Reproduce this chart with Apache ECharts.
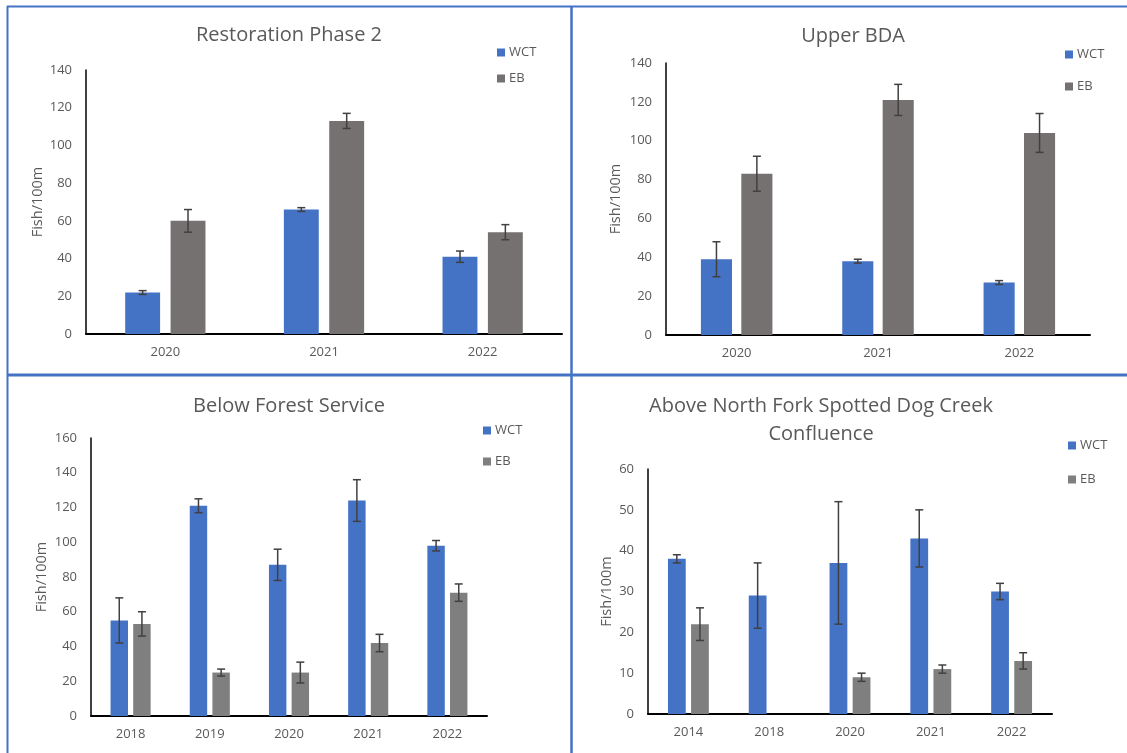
<!DOCTYPE html>
<html>
<head>
<meta charset="utf-8">
<title>Fish density by reach</title>
<script src="https://cdn.jsdelivr.net/npm/echarts@6/dist/echarts.min.js"></script>
<style>
  html, body { margin: 0; padding: 0; background: #ffffff; }
  #chart { width: 1127px; height: 753px; }
</style>
</head>
<body>
<div id="chart"></div>
<script>
// Fish per 100 m, westslope cutthroat (WCT) and eastern brook trout (EB), with error bars (+/-)

// Restoration Phase 2
const rp2Years = ['2020', '2021', '2022'];
const rp2WCT = [22, 66, 41];
const rp2WCTErr = [1, 1, 3];
const rp2EB = [60, 113, 54];
const rp2EBErr = [6, 4, 4];

// Upper BDA
const bdaYears = ['2020', '2021', '2022'];
const bdaWCT = [39, 38, 27];
const bdaWCTErr = [9, 1, 1];
const bdaEB = [83, 121, 104];
const bdaEBErr = [9, 8, 10];

// Below Forest Service
const bfsYears = ['2018', '2019', '2020', '2021', '2022'];
const bfsWCT = [55, 121, 87, 124, 98];
const bfsWCTErr = [13, 4, 9, 12, 3];
const bfsEB = [53, 25, 25, 42, 71];
const bfsEBErr = [7, 2, 6, 5, 5];

// Above North Fork Spotted Dog Creek Confluence (no EB sample in 2018)
const nfYears = ['2014', '2018', '2020', '2021', '2022'];
const nfWCT = [38, 29, 37, 43, 30];
const nfWCTErr = [1, 8, 15, 7, 2];
const nfEB = [22, null, 9, 11, 13];
const nfEBErr = [4, null, 1, 1, 2];

const seriesNames = ['WCT', 'EB'];

const BLUE = '#4472C4';
const TEXT = '#595959';
const FONT = '"Open Sans", "Noto Sans", sans-serif';
const BAR_W = 0.22;   // bar width as share of the category band
const BAR_GAP = 0.3;  // gap as share of bar width

function errData(vals, errs) {
  const out = [];
  vals.forEach((v, i) => {
    if (v != null && errs[i] != null) out.push([i, v - errs[i], v + errs[i]]);
  });
  return out;
}

// vertical whisker with caps, shifted to the centre of the WCT (-1) or EB (+1) bar
function errRenderer(side) {
  return function (params, api) {
    const idx = api.value(0);
    const lo = api.coord([idx, api.value(1)]);
    const hi = api.coord([idx, api.value(2)]);
    const band = api.size([1, 0])[0];
    const bw = band * BAR_W;
    const cx = lo[0] + side * bw * (1 + BAR_GAP) / 2;
    const cap = 4;
    const st = { stroke: '#404040', lineWidth: 1.5 };
    return {
      type: 'group',
      children: [
        { type: 'line', shape: { x1: cx, y1: lo[1], x2: cx, y2: hi[1] }, style: st },
        { type: 'line', shape: { x1: cx - cap, y1: hi[1], x2: cx + cap, y2: hi[1] }, style: st },
        { type: 'line', shape: { x1: cx - cap, y1: lo[1], x2: cx + cap, y2: lo[1] }, style: st }
      ]
    };
  };
}

const panels = [
  { title: 'Restoration Phase 2', tx: 289, ty: 21, grid: { left: 86, right: 565, top: 70, bottom: 419 },
    years: rp2Years, wct: rp2WCT, wctErr: rp2WCTErr, eb: rp2EB, ebErr: rp2EBErr, ebColor: '#767171',
    max: 140, interval: 20, nameGap: 40, legend: { left: 497, top: 46, itemGap: 13 } },
  { title: 'Upper BDA', tx: 853, ty: 22, grid: { left: 666, right: 37, top: 63, bottom: 418 },
    years: bdaYears, wct: bdaWCT, wctErr: bdaWCTErr, eb: bdaEB, ebColor: '#767171', ebErr: bdaEBErr,
    max: 140, interval: 20, nameGap: 43, legend: { left: 1065, top: 48, itemGap: 19 } },
  { title: 'Below Forest Service', tx: 289, ty: 392, grid: { left: 91, right: 640, top: 438, bottom: 37 },
    years: bfsYears, wct: bfsWCT, wctErr: bfsWCTErr, eb: bfsEB, ebErr: bfsEBErr, ebColor: '#7F7F7F',
    max: 160, interval: 20, nameGap: 42, legend: { left: 483, top: 424, itemGap: 18 } },
  { title: 'Above North Fork Spotted Dog Creek\nConfluence', tx: 821, ty: 392, grid: { left: 648, right: 75, top: 469, bottom: 39 },
    years: nfYears, wct: nfWCT, wctErr: nfWCTErr, eb: nfEB, ebErr: nfEBErr, ebColor: '#7F7F7F',
    max: 60, interval: 10, nameGap: 34, legend: { left: 1068, top: 439, itemGap: 21 } }
];

const option = {
  backgroundColor: '#ffffff',
  animation: false,
  title: [], legend: [], grid: [], xAxis: [], yAxis: [], series: [],
  graphic: []
};

panels.forEach((p, k) => {
  option.title.push({
    text: p.title, left: p.tx, top: p.ty, textAlign: 'center', padding: 0,
    textStyle: { color: TEXT, fontFamily: FONT, fontSize: 20, fontWeight: 'normal', lineHeight: 28 }
  });
  option.legend.push({
    data: seriesNames.map(n => ({ name: n + '\u200b'.repeat(k) })),
    orient: 'vertical', left: p.legend.left, top: p.legend.top, itemGap: p.legend.itemGap,
    icon: 'rect', itemWidth: 8, itemHeight: 8, padding: 0, selectedMode: false,
    formatter: name => name.replace(/\u200b/g, ''),
    textStyle: { color: TEXT, fontFamily: FONT, fontSize: 13, padding: [0, 0, 0, -1] }
  });
  option.grid.push(Object.assign({ containLabel: false }, p.grid));
  option.xAxis.push({
    type: 'category', gridIndex: k, data: p.years,
    axisLine: { lineStyle: { color: '#000000', width: 2 } },
    axisTick: { show: false },
    axisLabel: { color: TEXT, fontFamily: FONT, fontSize: 13, margin: 12 }
  });
  option.yAxis.push({
    type: 'value', gridIndex: k, min: 0, max: p.max, interval: p.interval,
    name: 'Fish/100m', nameLocation: 'middle', nameGap: p.nameGap, nameRotate: 90,
    nameTextStyle: { color: TEXT, fontFamily: FONT, fontSize: 14.5 },
    axisLine: { show: true, lineStyle: { color: '#000000', width: 1.5 } },
    axisTick: { show: false },
    splitLine: { show: false },
    axisLabel: { color: TEXT, fontFamily: FONT, fontSize: 13, margin: 14 }
  });
  const suffix = '\u200b'.repeat(k);
  option.series.push(
    { name: 'WCT' + suffix, type: 'bar', xAxisIndex: k, yAxisIndex: k, data: p.wct,
      barWidth: (BAR_W * 100) + '%', barGap: (BAR_GAP * 100) + '%', itemStyle: { color: BLUE } },
    { name: 'EB' + suffix, type: 'bar', xAxisIndex: k, yAxisIndex: k,
      data: p.eb.map(v => v == null ? '-' : v),
      barWidth: (BAR_W * 100) + '%', barGap: (BAR_GAP * 100) + '%', itemStyle: { color: p.ebColor } },
    { type: 'custom', xAxisIndex: k, yAxisIndex: k, z: 5, renderItem: errRenderer(-1),
      encode: { x: 0, y: [1, 2] }, data: errData(p.wct, p.wctErr), silent: true },
    { type: 'custom', xAxisIndex: k, yAxisIndex: k, z: 5, renderItem: errRenderer(1),
      encode: { x: 0, y: [1, 2] }, data: errData(p.eb, p.ebErr), silent: true }
  );
});

// blue frame lines separating the four panels
const frame = { stroke: '#4472C4', lineWidth: 2 };
option.graphic = [
  { type: 'line', shape: { x1: 7, y1: 6.5, x2: 1127, y2: 6.5 }, style: frame, z: 100 },
  { type: 'line', shape: { x1: 7.5, y1: 6, x2: 7.5, y2: 753 }, style: frame, z: 100 },
  { type: 'line', shape: { x1: 571.5, y1: 6, x2: 571.5, y2: 753 }, style: { stroke: '#4472C4', lineWidth: 2.5 }, z: 100 },
  { type: 'line', shape: { x1: 7, y1: 375, x2: 1127, y2: 375 }, style: { stroke: '#4472C4', lineWidth: 3 }, z: 100 }
];

const chart = echarts.init(document.getElementById('chart'), null, { renderer: 'canvas' });
chart.setOption(option);
</script>
</body>
</html>
